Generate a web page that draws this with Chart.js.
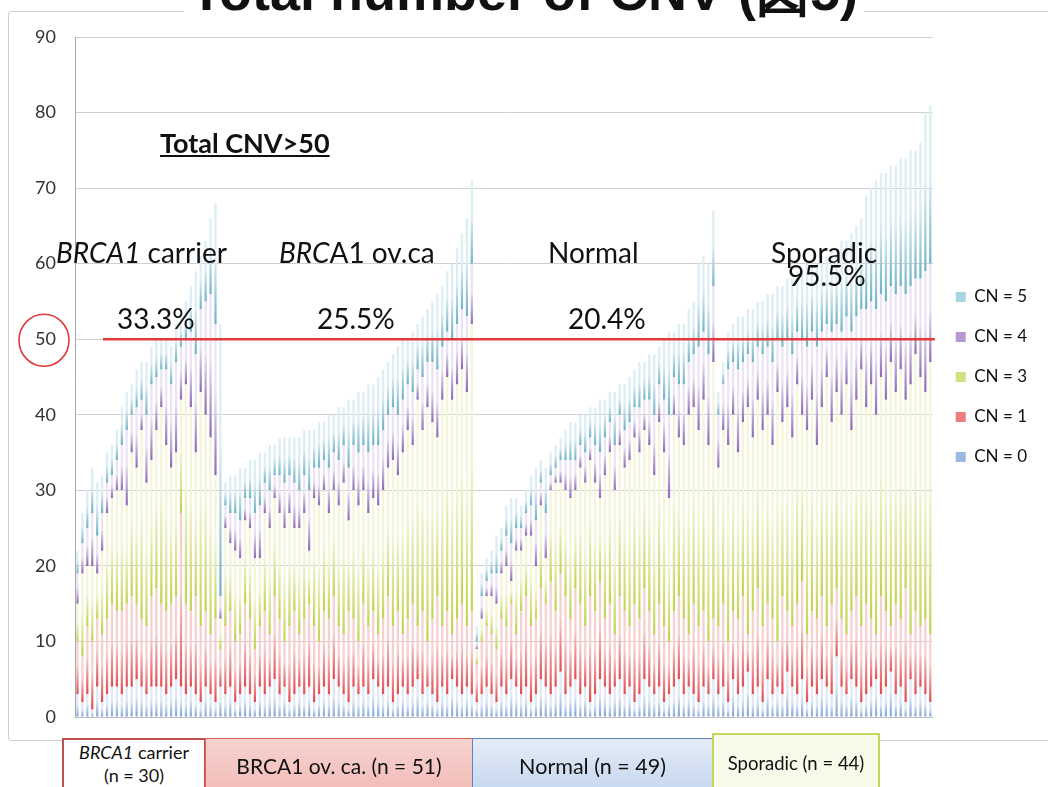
<!DOCTYPE html>
<html>
<head>
<meta charset="utf-8">
<script src="https://cdn.jsdelivr.net/npm/chart.js@4.4.1/dist/chart.umd.min.js"></script>
<style>
  html, body { margin:0; padding:0; background:#fff; }
  body { width:1048px; height:787px; overflow:hidden; position:relative; font-family:'Lato','Open Sans',sans-serif; color:#111; }
  #frame { position:absolute; left:8px; top:11px; width:1060px; height:728px; border:1px solid #cfcfcf; border-radius:3px; }
  #title { position:absolute; left:0; width:1048px; top:-44px; text-align:center; line-height:52px; }
  #title span { font:bold 54px 'Liberation Sans','DejaVu Sans',sans-serif; background:#fff; padding:0 6px; color:#111; }
  canvas { position:absolute; left:0; top:0; }
  .note { position:absolute; white-space:nowrap; font-size:28px; color:#111; line-height:1; }
  .box { position:absolute; box-sizing:border-box; text-align:center; color:#111; white-space:nowrap; }
</style>
</head>
<body>
<div id="frame"></div>
<div id="title"><span>Total number of CNV (図5)</span></div>
<canvas id="c" width="1048" height="787"></canvas>

<div class="note" style="left:160px;top:129px;font-weight:bold;font-size:27px;text-decoration:underline;">Total CNV&gt;50</div>
<div class="note" style="left:56px;top:238px;"><i>BRCA1</i> carrier</div>
<div class="note" style="left:279px;top:238px;"><i>BRC</i>A1 ov.ca</div>
<div class="note" style="left:548px;top:238px;">Normal</div>
<div class="note" style="left:771px;top:238px;">Sporadic</div>
<div class="note" style="left:117px;top:304px;">33.3%</div>
<div class="note" style="left:317px;top:304px;">25.5%</div>
<div class="note" style="left:568px;top:304px;">20.4%</div>
<div class="note" style="left:788px;top:261px;">95.5%</div>

<div class="box" style="left:62px;top:738px;width:144px;height:60px;border:2px solid #c0504d;background:#fff;font-size:18px;line-height:23px;padding-top:1px;"><i>BRCA1</i> carrier<br>(n = 30)</div>
<div class="box" style="left:205px;top:738px;width:268px;height:60px;border:1.5px solid #d9635f;background:linear-gradient(#f6d3d0,#f2b9b5);font-size:21px;line-height:54px;">BRCA1 ov. ca. (n = 51)</div>
<div class="box" style="left:472px;top:738px;width:241px;height:60px;border:1.5px solid #5b86c2;background:linear-gradient(#e4ecf7,#c3d5ee);font-size:21.5px;line-height:54px;">Normal (n = 49)</div>
<div class="box" style="left:712px;top:733px;width:168px;height:60px;border:2px solid #c4d65c;background:#f8fae9;font-size:18.5px;line-height:56px;">Sporadic (n = 44)</div>

<script>
// ---- data: each group, each copy-number class (number of CNVs per sample) ----
const groupNames = ['BRCA1 carrier', 'BRCA1 ov. ca.', 'Normal', 'Sporadic'];
const seriesNames = ['CN = 0', 'CN = 1', 'CN = 3', 'CN = 4', 'CN = 5'];
const yTicks = [0,10,20,30,40,50,60,70,80,90];
const threshold = 50;

const carrierCN0 = [3,2,3,1,4,2,3,4,4,3,4,4,5,4,3,4,4,4,3,4,5,4,3,4,3,2,4,3,2,4];
const carrierCN1 = [7,6,9,9,9,9,10,11,10,11,11,12,10,9,9,12,13,11,11,11,11,23,12,10,13,10,10,8,11,5];
const carrierCN3 = [5,11,8,10,6,11,14,14,16,16,13,19,18,25,19,18,21,26,22,18,19,15,29,27,19,31,26,26,19,4];
const carrierCN4 = [4,4,5,7,5,5,4,3,4,6,10,5,8,4,9,10,7,5,10,11,12,7,6,10,13,11,15,19,20,3];
const carrierCN5 = [3,4,5,6,7,5,4,4,4,5,5,4,5,5,7,5,5,4,4,5,5,4,5,6,11,7,8,10,16,36];

const ovcaCN0 = [3,4,2,3,4,3,2,4,3,4,5,3,4,2,3,4,3,4,2,3,4,3,5,4,3,2,4,3,4,3,5,4,3,4,2,3,4,3,4,5,3,4,3,2,4,3,5,4,3,4,3];
const ovcaCN1 = [9,10,8,8,11,10,7,8,11,7,11,10,6,10,11,7,10,11,10,7,10,10,11,8,8,12,9,7,11,9,9,7,10,12,10,11,7,10,11,7,11,6,10,14,8,11,6,9,12,8,11];
const ovcaCN3 = [13,9,12,10,11,12,12,9,13,14,13,14,15,15,11,14,14,7,17,18,16,14,14,16,20,12,17,18,15,15,15,17,17,17,22,18,24,25,21,30,24,31,26,21,30,31,31,31,31,31,38];
const ovcaCN4 = [3,4,5,5,3,4,6,7,4,5,3,5,6,5,6,5,5,8,4,5,4,6,5,6,5,7,6,7,6,8,7,8,8,7,7,8,7,6,7,4,7,6,8,9,7,6,8,8,8,10,8];
const ovcaCN5 = [3,5,5,7,4,5,7,7,4,6,4,5,6,5,6,7,6,8,5,6,5,7,5,7,5,9,6,8,7,9,8,9,8,7,7,9,8,6,8,6,8,7,8,10,8,8,10,10,10,13,11];

const normalCN0 = [2,3,4,3,2,4,3,5,4,3,4,2,3,5,4,3,4,6,3,4,5,3,4,2,3,5,4,3,4,5,3,4,2,3,5,4,3,4,2,3,4,5,3,4,3,2,4,3,5];
const normalCN1 = [5,7,8,8,7,9,9,10,7,11,12,10,10,12,11,15,10,13,13,9,12,12,8,14,11,13,9,12,7,11,11,8,13,10,12,10,8,11,10,7,10,11,10,7,12,10,10,7,8];
const normalCN3 = [2,3,4,5,6,6,8,3,11,8,8,12,7,11,6,12,17,12,14,16,13,18,19,18,17,11,19,20,19,20,19,22,22,22,21,22,21,24,23,19,26,21,23,29,26,26,28,26,34];
const normalCN4 = [1,3,2,3,4,3,4,5,3,3,3,4,6,3,6,2,2,3,4,5,4,3,4,3,5,6,5,4,6,4,5,5,4,6,4,6,8,5,7,11,5,7,8,7,7,11,9,12,10];
const normalCN5 = [2,3,3,3,5,3,4,6,4,3,3,4,7,3,6,3,3,3,4,5,5,4,5,4,5,7,5,4,7,4,6,6,5,6,5,6,8,5,8,11,6,8,8,7,7,11,10,12,10];

const sporadicCN0 = [3,4,2,5,3,4,6,3,4,2,5,3,4,3,6,4,3,5,2,4,3,5,4,3,8,4,3,5,4,2,3,4,5,3,4,6,3,4,2,5,3,4,3,2];
const sporadicCN1 = [9,11,8,9,10,12,5,11,13,10,10,10,6,13,8,8,12,13,9,10,10,11,8,12,9,9,8,9,12,10,12,9,6,13,10,6,12,9,15,6,11,8,10,9];
const sporadicCN3 = [21,23,26,26,22,23,30,23,25,26,25,23,33,23,27,25,29,22,27,28,23,25,33,24,26,27,33,24,26,34,26,31,29,29,28,35,28,33,25,33,34,33,30,36];
const sporadicCN4 = [7,6,10,7,11,8,7,10,7,10,9,11,7,10,9,11,7,10,11,9,13,10,7,12,9,11,9,13,11,8,13,11,14,11,13,10,13,11,14,13,10,13,16,13];
const sporadicCN5 = [3,3,5,5,7,6,6,7,6,7,7,9,7,8,8,10,8,9,11,9,11,10,9,11,10,12,10,13,12,12,15,15,17,16,17,16,17,17,18,18,17,18,21,21];

// ---- assemble ----
const cn0 = [...carrierCN0, ...ovcaCN0, ...normalCN0, ...sporadicCN0];
const cn1 = [...carrierCN1, ...ovcaCN1, ...normalCN1, ...sporadicCN1];
const cn3 = [...carrierCN3, ...ovcaCN3, ...normalCN3, ...sporadicCN3];
const cn4 = [...carrierCN4, ...ovcaCN4, ...normalCN4, ...sporadicCN4];
const cn5 = [...carrierCN5, ...ovcaCN5, ...normalCN5, ...sporadicCN5];
const series = [cn0, cn1, cn3, cn4, cn5];
const groupData = [carrierCN0, ovcaCN0, normalCN0, sporadicCN0];
const labels = [];
groupData.forEach((arr, g) => arr.forEach((_, i) => labels.push(groupNames[g] + ' ' + (i + 1))));

const darkCols = ['#7fa3d8', '#e2484d', '#c3d24e', '#8d68b4', '#6db2c8'];
const paleCols = ['#dfe8f6', '#f7cfcf', '#f3f5d6', '#ebe3f3', '#dcedf3'];
const legendCols = ['#9bb8e2', '#ee7b7d', '#d6df7e', '#b697d4', '#a6d6e0'];

function grad(si) {
  return (ctx) => {
    const chart = ctx.chart;
    if (!chart.chartArea || ctx.type !== 'data') return legendCols[si];
    const j = ctx.dataIndex;
    let base = 0;
    for (let k = 0; k < si; k++) base += series[k][j];
    const top = base + series[si][j];
    const y = chart.scales.y;
    const y0 = y.getPixelForValue(top), y1 = y.getPixelForValue(base);
    if (!(y1 > y0 + 0.5)) return darkCols[si];
    const g = chart.ctx.createLinearGradient(0, y0, 0, y1);
    g.addColorStop(0, paleCols[si]);
    g.addColorStop(0.45, paleCols[si]);
    g.addColorStop(1, darkCols[si]);
    return g;
  };
}

const datasets = series.map((d, si) => ({
  label: seriesNames[si],
  data: d,
  backgroundColor: grad(si),
  borderWidth: 0,
  categoryPercentage: 1.0,
  barPercentage: 0.45,
  stack: 's'
}));

const refPlugin = {
  id: 'refmarks',
  afterDatasetsDraw(chart) {
    const {ctx, chartArea: a, scales: {y}} = chart;
    const yy = y.getPixelForValue(threshold);
    ctx.save();
    ctx.strokeStyle = '#e3383c';
    ctx.lineWidth = 2.5;
    ctx.beginPath();
    ctx.moveTo(a.left + 28, yy);
    ctx.lineTo(a.right + 2, yy);
    ctx.stroke();
    ctx.lineWidth = 1.6;
    ctx.beginPath();
    ctx.ellipse(a.left - 31, yy + 1, 25, 26, 0, 0, Math.PI * 2);
    ctx.stroke();
    ctx.restore();
  }
};

new Chart(document.getElementById('c'), {
  type: 'bar',
  data: { labels, datasets },
  options: {
    responsive: false,
    animation: false,
    devicePixelRatio: 1,
    layout: { padding: { left: 35, top: 37, bottom: 70, right: 11 } },
    plugins: {
      legend: {
        position: 'right',
        reverse: true,
        labels: {
          boxWidth: 10, boxHeight: 10, padding: 23,
          color: '#111',
          font: { family: "'Lato','Open Sans',sans-serif", size: 17 },
          generateLabels: (chart) => Chart.defaults.plugins.legend.labels.generateLabels(chart)
            .map(l => Object.assign(l, { fillStyle: legendCols[l.datasetIndex], strokeStyle: legendCols[l.datasetIndex], lineWidth: 0 }))
        }
      },
      tooltip: { enabled: false },
      title: { display: false }
    },
    scales: {
      x: {
        stacked: true,
        ticks: { display: false },
        grid: { display: false, drawTicks: false },
        border: { display: true, color: '#bdbdbd', width: 1 }
      },
      y: {
        stacked: true,
        min: 0, max: 90,
        afterBuildTicks: (s) => { s.ticks = yTicks.map(v => ({ value: v })); },
        afterFit: (s) => { s.width = 40; },
        ticks: { padding: 19, color: '#333', font: { family: "'Lato','Open Sans',sans-serif", size: 18 } },
        grid: { color: '#cfcfcf', lineWidth: 1, drawTicks: false },
        border: { display: true, color: '#a9a9a9', width: 1 }
      }
    }
  },
  plugins: [refPlugin]
});
</script>
</body>
</html>
